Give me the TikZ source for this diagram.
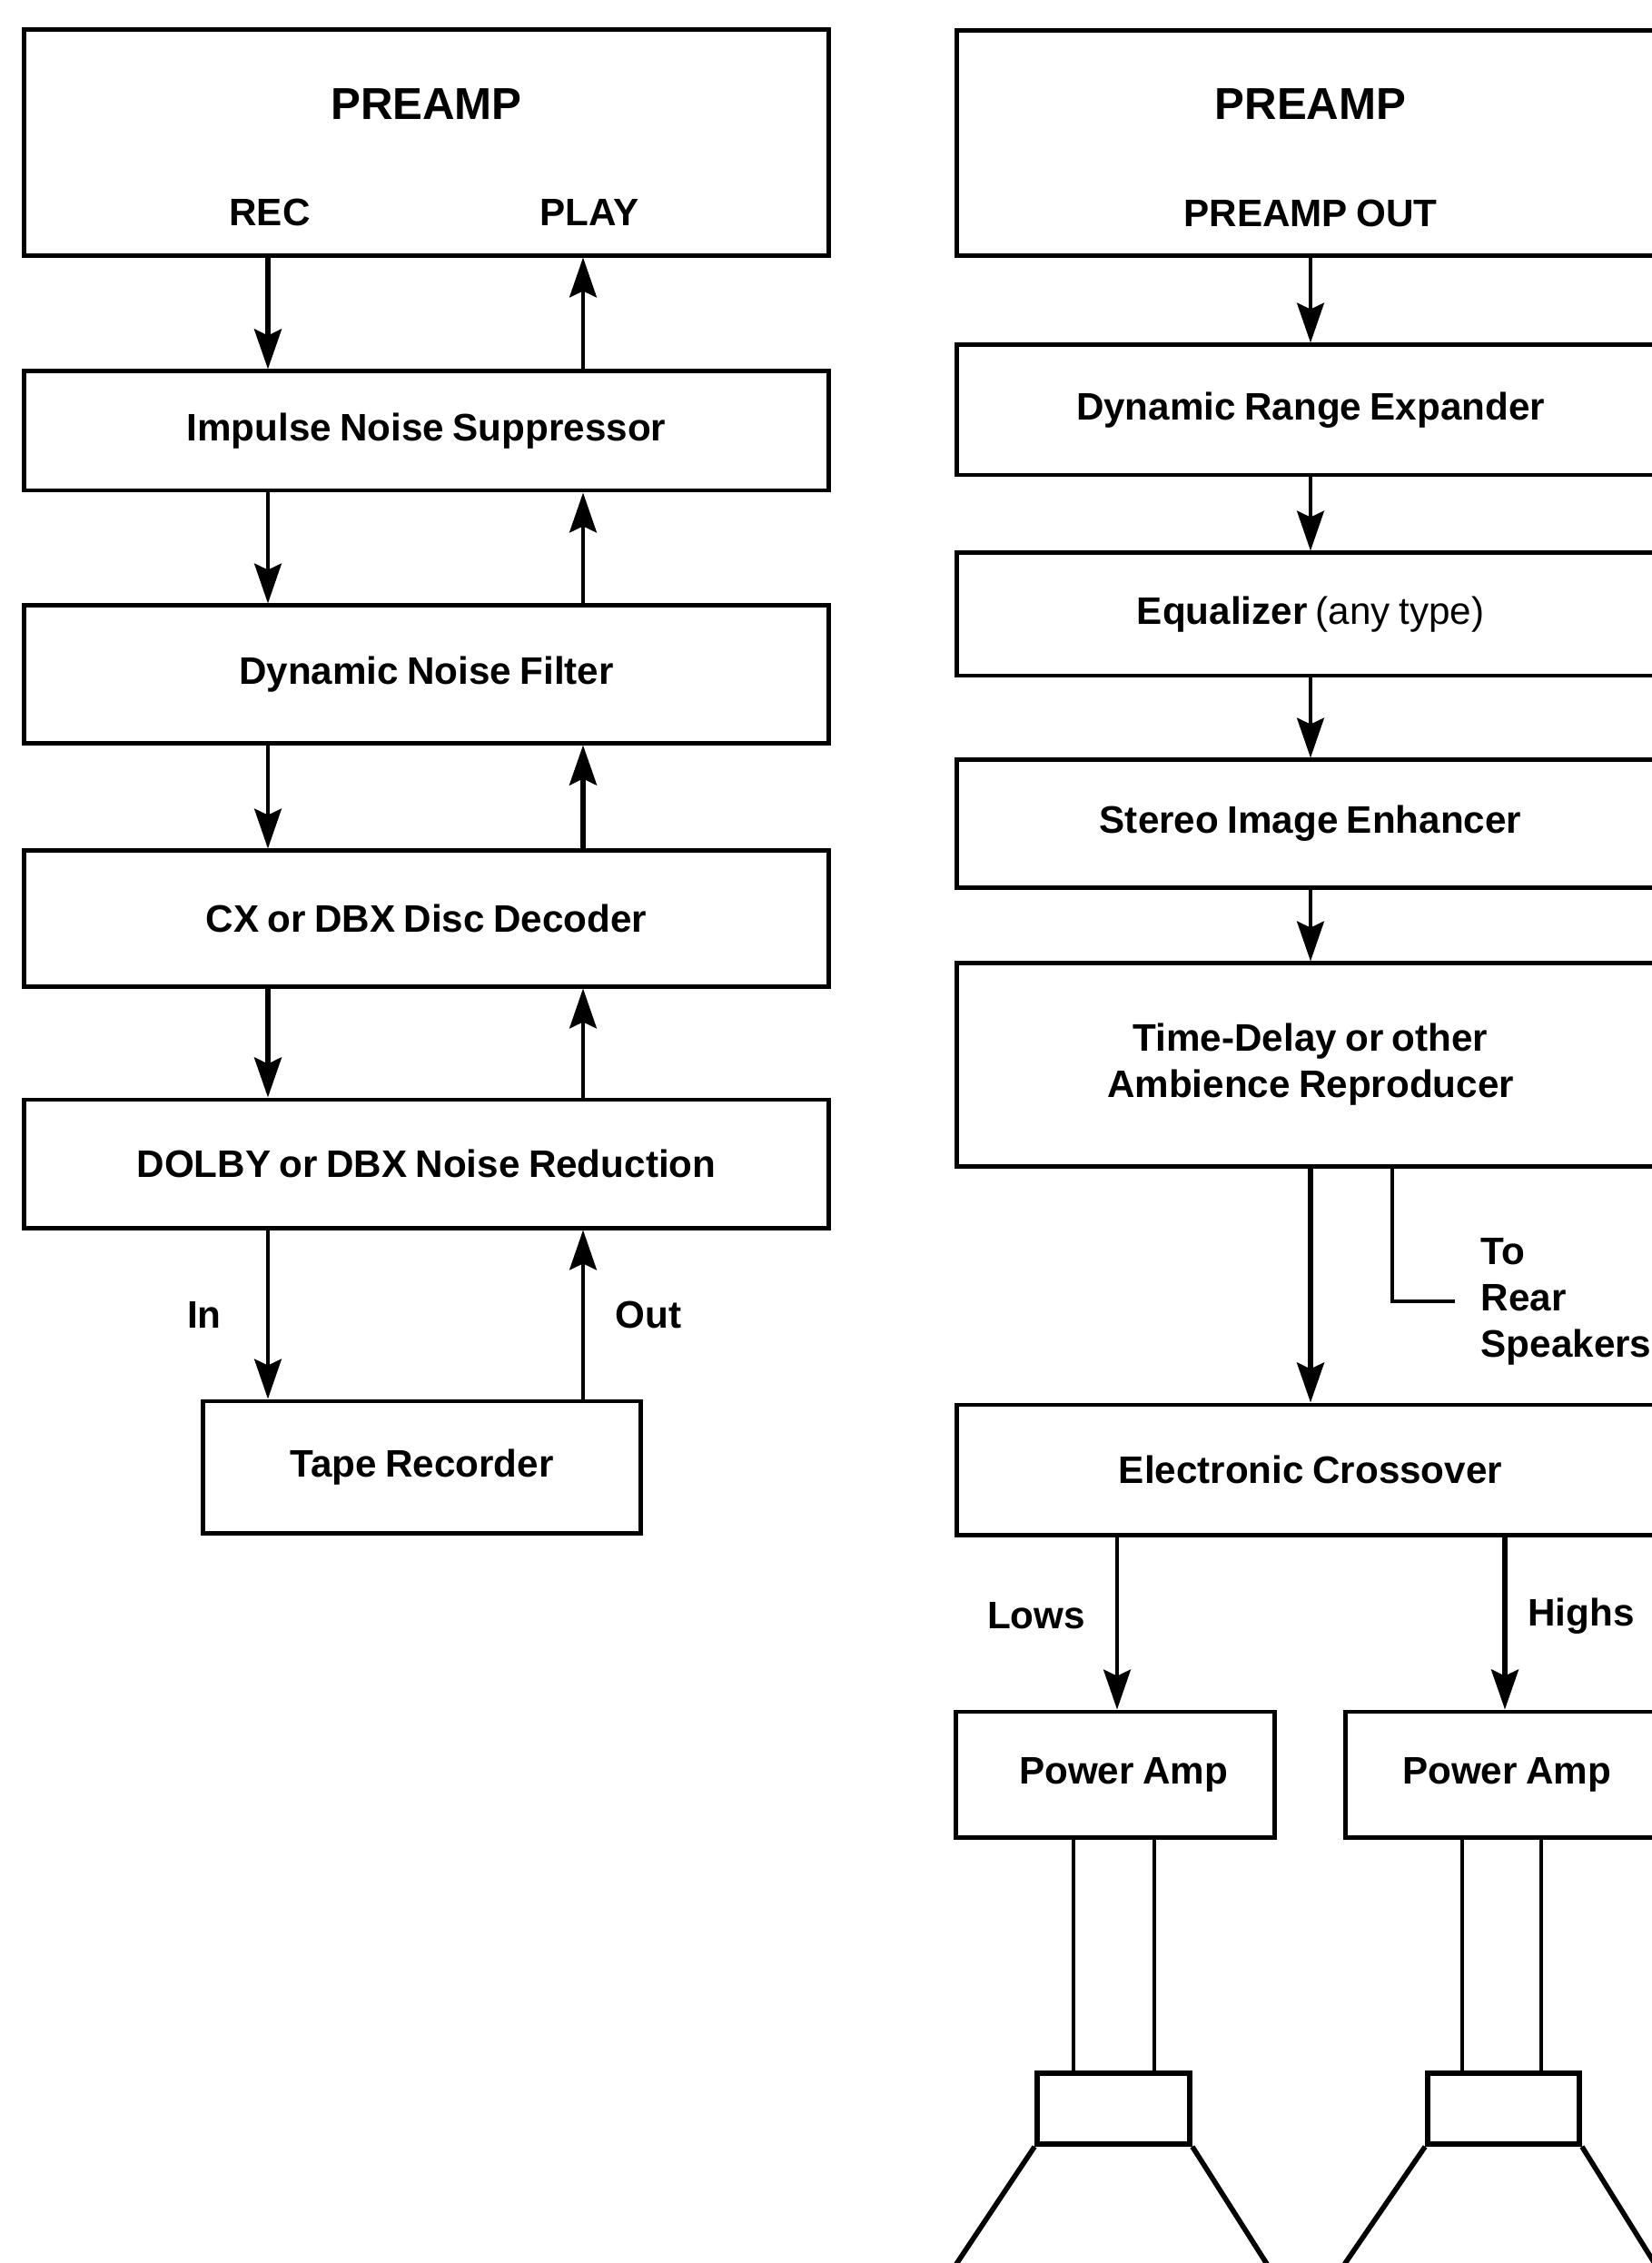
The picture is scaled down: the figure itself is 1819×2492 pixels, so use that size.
\documentclass[tikz,border=0pt]{standalone}
\usepackage{fontspec}
\setmainfont{Liberation Sans}[WordSpace=0.8]
\usetikzlibrary{arrows.meta}
\newcommand\bxfont{\fontsize{12pt}{14.5pt}\selectfont\bfseries}
\newcommand\ttlfont{\fontsize{14pt}{16pt}\selectfont\bfseries}
\tikzset{
  blk/.style={draw, line width=1.4pt, inner sep=0pt, font=\bxfont, align=center},
  lbl/.style={inner sep=0pt, font=\bxfont},
  arr/.style={line width=1.1pt, -{Stealth[length=12.5pt,width=8.5pt,inset=2pt]}},
  arrb/.style={arr, line width=1.6pt},
  wire/.style={line width=1.2pt},
  spk/.style={line width=1.6pt},
}
\begin{document}
\begin{tikzpicture}[x=0.01cm,y=-0.01cm]
\useasboundingbox (0,0) rectangle (1819,2492);
\clip (0,0) rectangle (1819,2492);
\fill[white] (0,0) rectangle (1819,2492);

% ---------- record / playback chain ----------
\node[blk, minimum width=8.85cm, minimum height=2.48cm] (lpre) at (469.5,157) {};
\node[lbl, font=\ttlfont] (lpreT) at (469.5,115) {PREAMP};
\node[lbl] (rec) at (297,234) {REC};
\node[lbl] (play) at (649,234) {PLAY};
\node[blk, minimum width=8.85cm, minimum height=1.31cm] (ins) at (469.5,474.5) {Impulse Noise Suppressor};
\node[blk, minimum width=8.85cm, minimum height=1.51cm] (dnf) at (469.5,742.5) {Dynamic Noise Filter};
\node[blk, minimum width=8.85cm, minimum height=1.49cm] (cx) at (469.5,1011.5) {CX or DBX Disc Decoder};
\node[blk, minimum width=8.85cm, minimum height=1.41cm] (nr) at (469.5,1281.5) {DOLBY or DBX Noise Reduction};
\node[blk, minimum width=4.81cm, minimum height=1.45cm] (tape) at (464.5,1615.5) {Tape Recorder};

\coordinate (dn) at (295,0);
\coordinate (up) at (642,0);
\draw[arrb] (lpre.south -| dn) -- (ins.north -| dn);
\draw[arr]  (ins.north -| up) -- (lpre.south -| up);
\draw[arr]  (ins.south -| dn) -- (dnf.north -| dn);
\draw[arr]  (dnf.north -| up) -- (ins.south -| up);
\draw[arr]  (dnf.south -| dn) -- (cx.north -| dn);
\draw[arrb] (cx.north -| up) -- (dnf.south -| up);
\draw[arrb] (cx.south -| dn) -- (nr.north -| dn);
\draw[arr]  (nr.north -| up) -- (cx.south -| up);
\draw[arr]  (nr.south -| dn) -- (tape.north -| dn);
\draw[arr]  (tape.north -| up) -- (nr.south -| up);
\node[lbl] (in) at (225,1448) {In};
\node[lbl] (out) at (714,1448) {Out};

% ---------- playback processing chain ----------
\node[blk, minimum width=7.78cm, minimum height=2.47cm] (rpre) at (1443,157.5) {};
\node[lbl, font=\ttlfont] (rpreT) at (1443,115) {PREAMP};
\node[lbl] (pout) at (1443,235) {PREAMP OUT};
\node[blk, minimum width=7.78cm, minimum height=1.43cm] (dre) at (1443,451.5) {Dynamic Range Expander};
\node[blk, minimum width=7.78cm, minimum height=1.35cm] (eq) at (1443,676.5) {Equalizer \textmd{(any type)}};
\node[blk, minimum width=7.78cm, minimum height=1.40cm] (sie) at (1443,907) {Stereo Image Enhancer};
\node[blk, minimum width=7.78cm, minimum height=2.23cm] (tdr) at (1443,1172.5) {Time-Delay or other\\Ambience Reproducer};
\node[blk, minimum width=7.78cm, minimum height=1.43cm] (xo) at (1443,1618.5) {Electronic Crossover};

\draw[arr] (rpre.south) -- (dre.north);
\draw[arr] (dre.south) -- (eq.north);
\draw[arr] (eq.south) -- (sie.north);
\draw[arr] (sie.south) -- (tdr.north);
\draw[arrb] (tdr.south) -- (xo.north);

% branch to the rear speakers
\coordinate (rearTap) at (1533,0);
\coordinate (rearEnd) at (1602,1433);
\draw[wire] (tdr.south -| rearTap) |- (rearEnd);
\node[lbl, align=left, anchor=west] (rear) at (1630,1433) {To\\Rear\\Speakers};

% crossover outputs
\node[blk, minimum width=3.50cm, minimum height=1.38cm] (pal) at (1228,1954) {\hspace*{0.18cm}Power Amp};
\node[blk, minimum width=3.54cm, minimum height=1.38cm] (par) at (1659,1954) {Power Amp};
\coordinate (lx) at (1230,0);
\coordinate (hx) at (1657,0);
\draw[arr] (xo.south -| lx) -- (pal.north -| lx);
\draw[arrb] (xo.south -| hx) -- (par.north -| hx);
\node[lbl] (lows) at (1141,1779) {Lows};
\node[lbl] (highs) at (1741,1780) {Highs};

% loudspeakers
\node[draw, spk, inner sep=0pt, minimum width=1.68cm, minimum height=0.78cm] (magl) at (1226,2322) {};
\node[draw, spk, inner sep=0pt, minimum width=1.67cm, minimum height=0.78cm] (magr) at (1655.5,2322) {};
\coordinate (wl1) at (1182,0);
\coordinate (wl2) at (1271,0);
\coordinate (wr1) at (1610,0);
\coordinate (wr2) at (1697,0);
\draw[wire] (pal.south -| wl1) -- (magl.north -| wl1);
\draw[wire] (pal.south -| wl2) -- (magl.north -| wl2);
\draw[wire] (par.south -| wr1) -- (magr.north -| wr1);
\draw[wire] (par.south -| wr2) -- (magr.north -| wr2);
\draw[spk] (magl.south west) -- ++(-106,159);
\draw[spk] (magl.south east) -- ++(101,159);
\draw[spk] (magr.south west) -- ++(-109,159);
\draw[spk] (magr.south east) -- ++(99,159);
\end{tikzpicture}
\end{document}
